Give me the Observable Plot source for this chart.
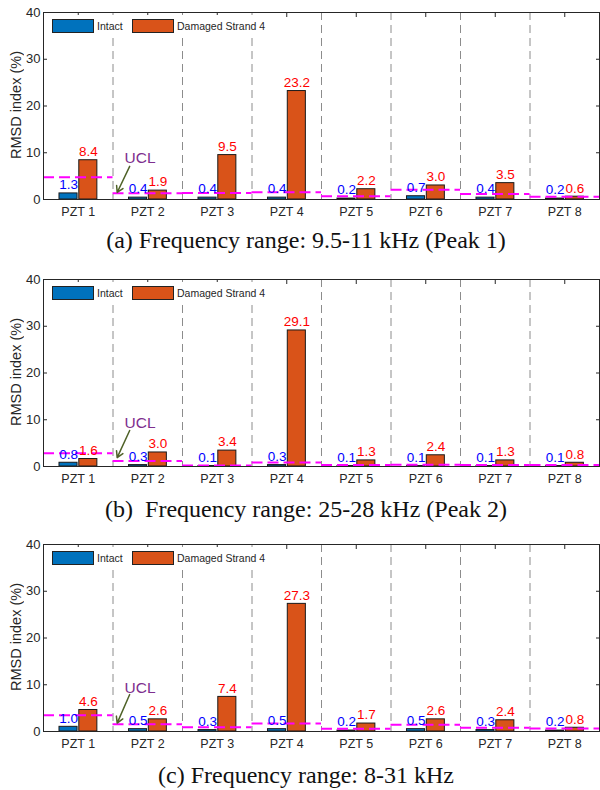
<!DOCTYPE html>
<html><head><meta charset="utf-8">
<script src="https://cdn.jsdelivr.net/npm/d3@7"></script>
<script src="https://cdn.jsdelivr.net/npm/@observablehq/plot@0.6"></script>
<style>
body{margin:0;background:#fff;}
#root{position:relative;width:600px;height:790px;overflow:hidden;font-family:"Liberation Sans",Arial,sans-serif;}
.panel{position:absolute;left:0;width:600px;height:228px;}
.panel svg{position:absolute;left:0;top:0;}
.cap{position:absolute;left:0;width:612px;text-align:center;font-family:"Liberation Serif","Times New Roman",serif;font-size:24px;line-height:24px;white-space:pre;color:#111;}
.legend{position:absolute;left:48px;top:15px;width:222px;height:22px;background:#fff;font-size:10.5px;color:#262626;}
.legend .sw{position:absolute;top:4px;width:42px;height:14px;border:1px solid #222;box-sizing:border-box;}
.legend .lt{position:absolute;top:4px;line-height:14px;white-space:nowrap;}
.ylab{position:absolute;left:8px;top:12px;height:187px;width:16px;display:flex;align-items:center;justify-content:center;writing-mode:vertical-rl;transform:rotate(180deg);font-size:14.5px;line-height:16px;color:#262626;white-space:nowrap;}
</style></head><body><div id="root"></div>
<script>
// ---------- data ----------
const pzt = ["PZT 1","PZT 2","PZT 3","PZT 4","PZT 5","PZT 6","PZT 7","PZT 8"];
const seriesNames = ["Intact","Damaged Strand 4"];
const yTicks = [0,10,20,30,40];
const yLabel = "RMSD index (%)";
const uclLabel = "UCL";

const intactA  = [1.3,0.4,0.4,0.4,0.2,0.7,0.4,0.2];
const damagedA = [8.4,1.9,9.5,23.2,2.2,3.0,3.5,0.6];
const uclA     = [4.75,1.35,1.4,1.55,0.7,2.1,1.2,0.58];

const intactB  = [0.8,0.3,0.1,0.3,0.1,0.1,0.1,0.1];
const damagedB = [1.6,3.0,3.4,29.1,1.3,2.4,1.3,0.8];
const uclB     = [2.85,1.15,0.2,0.88,0.3,0.35,0.3,0.3];

const intactC  = [1.0,0.5,0.3,0.5,0.2,0.5,0.3,0.2];
const damagedC = [4.6,2.6,7.4,27.3,1.7,2.6,2.4,0.8];
const uclC     = [3.45,1.57,0.93,1.72,0.58,1.44,0.8,0.65];

const captions = [
  "(a) Frequency range: 9.5-11 kHz (Peak 1)",
  "(b)  Frequency range: 25-28 kHz (Peak 2)",
  "(c) Frequency range: 8-31 kHz"
];

// ---------- layout ----------
const intacts = [intactA, intactB, intactC];
const damageds = [damagedA, damagedB, damagedC];
const ucls = [uclA, uclB, uclC];
const panelTops = [0, 267, 532];
const capTops = [228, 497, 763];
const anno = [
  {tx:1.39, ty:8.8, x1:1.24, y1:7.1, x2:1.06, y2:1.5},
  {tx:1.39, ty:9.2, x1:1.24, y1:7.7, x2:1.06, y2:1.9},
  {tx:1.39, ty:9.2, x1:1.24, y1:7.9, x2:1.06, y2:1.8}
];
const colors = {intact:"#0072BD", damaged:"#D95319"};

function makePanel(k){
  const intact = intacts[k], damaged = damageds[k], ucl = ucls[k];
  const idx = d3.range(pzt.length);
  const centers = idx.map(i => i + 0.5);
  const a = anno[k];
  return Plot.plot({
    width:600, height:228, marginLeft:43, marginRight:1, marginTop:12, marginBottom:29,
    x:{domain:[0,pzt.length], axis:null},
    y:{domain:[0,40], axis:null},
    style:{fontFamily:"Liberation Sans, Arial, sans-serif", color:"#262626", background:"transparent", overflow:"visible"},
    marks:[
      Plot.ruleX(d3.range(1, pzt.length), {x:d=>d, stroke:"#8c8c8c", strokeDasharray:"8,5", strokeWidth:1}),
      Plot.rect(idx, {x1:i=>i+0.23, x2:i=>i+0.49, y1:0, y2:i=>intact[i], fill:colors.intact, stroke:"#1a1a1a", strokeWidth:1}),
      Plot.rect(idx, {x1:i=>i+0.515, x2:i=>i+0.775, y1:0, y2:i=>damaged[i], fill:colors.damaged, stroke:"#1a1a1a", strokeWidth:1}),
      Plot.ruleY(idx, {y:i=>ucl[i], x1:i=>i, x2:i=>i+1, stroke:"#FF00FF", strokeWidth:2, strokeDasharray:"11,5"}),
      Plot.text(idx, {x:i=>i+0.36, y:i=>intact[i], text:i=>intact[i].toFixed(1), dy:-8.5, fill:"#0000FF", fontSize:13.5}),
      Plot.text(idx, {x:i=>i+0.645, y:i=>damaged[i], text:i=>damaged[i].toFixed(1), dy:-8.5, fill:"#FF0000", fontSize:13.5}),
      Plot.arrow([a], {x1:"x1", y1:"y1", x2:"x2", y2:"y2", stroke:"#4F6228", strokeWidth:1.5, headLength:7}),
      Plot.text([uclLabel], {x:a.tx, y:a.ty, text:d=>d, fill:"#7E2F8E", fontSize:15.5}),
      Plot.axisY({ticks:yTicks, tickSize:0, tickPadding:3, fontSize:13, label:null}),
      Plot.axisY({ticks:yTicks, anchor:"left", tickSize:-4, tickFormat:()=>"", label:null}),
      Plot.axisY({ticks:yTicks, anchor:"right", tickSize:-4, tickFormat:()=>"", label:null}),
      Plot.axisX({ticks:centers, anchor:"top", tickSize:-4, tickFormat:()=>"", label:null}),
      Plot.axisX({ticks:centers, anchor:"bottom", tickSize:0, tickPadding:8, fontSize:12.5, tickFormat:d=>pzt[Math.floor(d)], label:null}),
      Plot.frame({stroke:"#262626", strokeWidth:1})
    ]
  });
}

const root = document.getElementById("root");
for (let k = 0; k < 3; k++){
  const div = document.createElement("div");
  div.className = "panel";
  div.style.top = panelTops[k] + "px";
  div.appendChild(makePanel(k));
  const yl = document.createElement("div");
  yl.className = "ylab";
  yl.textContent = yLabel;
  div.appendChild(yl);
  const lg = document.createElement("div");
  lg.className = "legend";
  lg.innerHTML =
    `<span class="sw" style="left:4px;background:${colors.intact}"></span>` +
    `<span class="lt" style="left:49px">${seriesNames[0]}</span>` +
    `<span class="sw" style="left:84px;background:${colors.damaged}"></span>` +
    `<span class="lt" style="left:129px">${seriesNames[1]}</span>`;
  div.appendChild(lg);
  root.appendChild(div);
  const cap = document.createElement("div");
  cap.className = "cap";
  cap.style.top = capTops[k] + "px";
  cap.textContent = captions[k];
  root.appendChild(cap);
}
</script>
</body></html>
